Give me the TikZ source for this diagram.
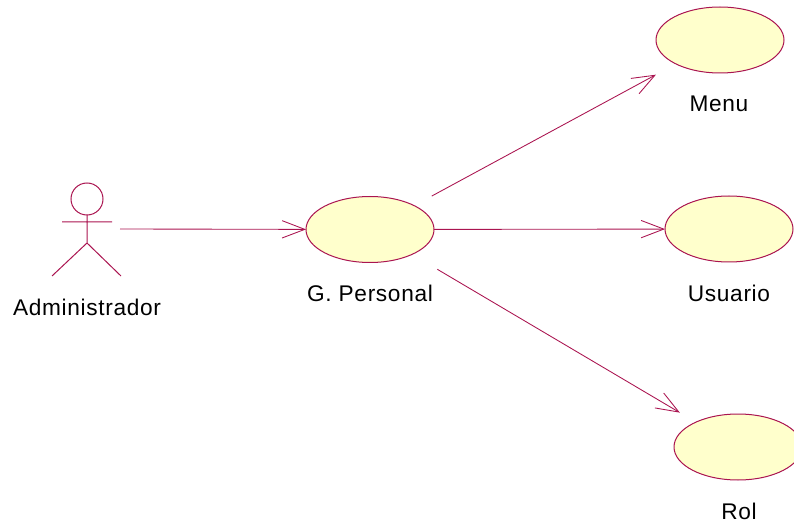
\documentclass[tikz,border=0pt]{standalone}
\usepackage{fontspec}
\usepackage{xcolor}
\setmainfont[LetterSpace=3.0]{Liberation Sans}
\usetikzlibrary{
    arrows.meta,
    shapes.geometric
}
\definecolor{rosered}{RGB}{170,20,80}
\definecolor{rosefill}{RGB}{255,255,204}
\tikzset{
    usecase/.style={ellipse, draw=rosered, fill=rosefill, line width=0.75pt, minimum width=96pt, minimum height=49.5pt, inner sep=0pt, outer sep=0pt},
    caption/.style={text=black, font=\fontsize{17}{20}\selectfont, inner sep=0pt},
    assoc/.style={draw=rosered, line width=0.65pt, -{Straight Barb[length=17pt, width=13pt]}},
    stick/.style={draw=rosered, line width=0.75pt}
}

\begin{document}
\begin{tikzpicture}[x=0.75pt, y=-0.75pt]
    \useasboundingbox (0, 0) rectangle (794, 528);

    \node[usecase] (menu) at (720, 40) {};
    \node[usecase] (usuario) at (729, 229) {};
    \node[usecase] (personal) at (370, 229.5) {};
    \node[usecase] (rol) at (738, 447) {};

    \node[caption] (menulabel) at (719, 104) {Menu};
    \node[caption] (usuariolabel) at (729, 293) {Usuario};
    \node[caption] (personallabel) at (370, 293) {G. Personal};
    \node[caption] (rollabel) at (739, 511) {Rol};
    \node[caption] (adminlabel) at (87, 307) {Administrador};

    % actor
    \node[circle, stick, minimum size=24pt, inner sep=0pt, outer sep=0pt] (head) at (87, 199) {};
    \coordinate (hip) at (87, 243);
    \coordinate (handl) at (62, 222);
    \coordinate (handr) at (112, 222);
    \coordinate (footl) at (52, 276);
    \coordinate (footr) at (121, 276);
    \coordinate (admin) at (120, 229);
    \draw[stick]
    (head) -- (hip)
    (handl) -- (handr)
    (hip) -- (footl)
    (hip) -- (footr);

    \draw[assoc] (admin) -- (personal);
    \draw[assoc, shorten <=15pt, shorten >=17pt] (personal) -- (menu);
    \draw[assoc] (personal) -- (usuario);
    \draw[assoc, shorten <=22pt, shorten >=14pt] (personal) -- (rol);
\end{tikzpicture}
\end{document}
